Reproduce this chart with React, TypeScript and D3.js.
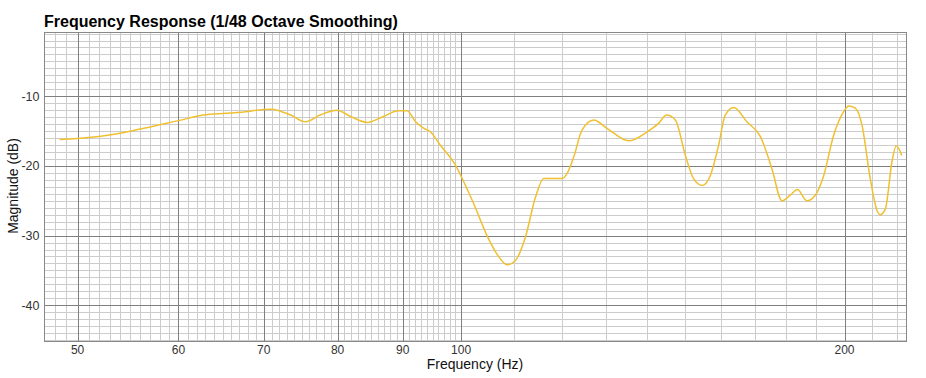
import React from "react";
import * as d3 from "d3";

const freqs = [48.4, 50, 52.8, 56, 60, 62.8, 67.1, 70.9, 73.5, 75.5, 77.5, 79.9, 81.9, 84.4, 86.9, 89.3, 90.7, 92.1, 93.5, 94.6, 96.3, 99.0, 100.2, 102.3, 104.8, 106.7, 108.7, 110.3, 112.3, 114.4, 116.1, 118.2, 120.0, 121.1, 122.6, 124.4, 127.1, 130.2, 135.4, 140.0, 142.9, 145.0, 147.3, 150.0, 152.2, 154.6, 156.9, 159.3, 161.2, 163.7, 167.7, 171.8, 175.4, 178.6, 181.3, 183.7, 186.8, 189.7, 192.6, 196.1, 199.7, 201.5, 203.9, 206.4, 209.5, 212.1, 213.3, 215.3, 217.9, 219.6, 221.8];
const magnitudes = [-16.2, -16.06, -15.6, -14.7, -13.5, -12.7, -12.3, -11.85, -12.7, -13.66, -12.7, -12.0, -12.9, -13.75, -12.9, -12.07, -12.07, -13.66, -14.6, -15.1, -17.0, -19.9, -21.8, -25.4, -30.0, -32.65, -34.2, -33.6, -30.3, -24.5, -21.8, -21.8, -21.8, -21.1, -18.7, -14.9, -13.4, -14.6, -16.4, -15.1, -13.9, -12.7, -13.4, -18.5, -21.8, -22.8, -21.4, -17.0, -12.7, -11.6, -13.7, -15.8, -20.4, -25.0, -24.2, -23.4, -25.0, -24.2, -21.4, -15.6, -12.2, -11.4, -11.7, -14.1, -21.8, -26.4, -27.0, -26.2, -19.4, -17.1, -18.5];

const xTickValues = [50, 60, 70, 80, 90, 100, 200];
const yTickValues = [-10, -20, -30, -40];

const W = 926, H = 378;
const left = 44.5, right = 906.5, top = 32.5, bottom = 341.5;

export default function App() {
  const x = d3.scaleLog().domain([47.1, 223.7]).range([left, right]);
  const y = d3.scaleLinear().domain([-45.2, -0.85]).range([bottom, top]);

  const minorX: number[] = [];
  for (let f = 48; f < 100; f++) if (f % 10 !== 0) minorX.push(f);
  for (let f = 110; f <= 220; f += 10) if (f !== 200) minorX.push(f);
  const minorY: number[] = [];
  for (let v = -45; v <= -1; v++) if (v % 10 !== 0) minorY.push(v);

  const line = d3
    .line<number>()
    .x((_, i) => x(freqs[i]))
    .y((d) => y(d))
    .curve(d3.curveMonotoneX);

  const font = "Liberation Sans, Arial, Helvetica, sans-serif";
  return (
    <svg width={W} height={H} style={{ position: "absolute", left: 0, top: 0 }} fontFamily={font}>
      <rect x={0} y={0} width={W} height={H} fill="#fff" />
      {minorX.map((f) => (
        <line key={"mx" + f} x1={Math.round(x(f)) + 0.5} x2={Math.round(x(f)) + 0.5} y1={top} y2={bottom} stroke="#cccccc" strokeWidth={1} />
      ))}
      {minorY.map((v) => (
        <line key={"my" + v} y1={Math.round(y(v)) + 0.5} y2={Math.round(y(v)) + 0.5} x1={left} x2={right} stroke="#cccccc" strokeWidth={1} />
      ))}
      {xTickValues.map((f) => (
        <line key={"Mx" + f} x1={Math.round(x(f)) + 0.5} x2={Math.round(x(f)) + 0.5} y1={top} y2={bottom} stroke="#7f7f7f" strokeWidth={1} />
      ))}
      {yTickValues.map((v) => (
        <line key={"My" + v} y1={Math.round(y(v)) + 0.5} y2={Math.round(y(v)) + 0.5} x1={left} x2={right} stroke="#7f7f7f" strokeWidth={1} />
      ))}
      <rect x={left} y={top} width={right - left} height={bottom - top} fill="none" stroke="#888" strokeWidth={1} />
      <path d={line(magnitudes) || ""} fill="none" stroke="#f0c030" strokeWidth={1.5} />
      {yTickValues.map((v) => (
        <text key={"yt" + v} x={left - 5} y={y(v)} dy="0.35em" textAnchor="end" fontSize={12.5} fill="#333">
          {v}
        </text>
      ))}
      {xTickValues.map((f) => (
        <text key={"xt" + f} x={x(f)} y={bottom + 12.5} textAnchor="middle" fontSize={12} fill="#333">
          {f}
        </text>
      ))}
      <text x={475} y={369} textAnchor="middle" fontSize={14} fill="#111">
        Frequency (Hz)
      </text>
      <text transform={`translate(18,186) rotate(-90)`} textAnchor="middle" fontSize={14} fill="#111">
        Magnitude (dB)
      </text>
      <text x={44} y={27} fontSize={16} fontWeight="bold" fill="#000">
        Frequency Response (1/48 Octave Smoothing)
      </text>
    </svg>
  );
}
